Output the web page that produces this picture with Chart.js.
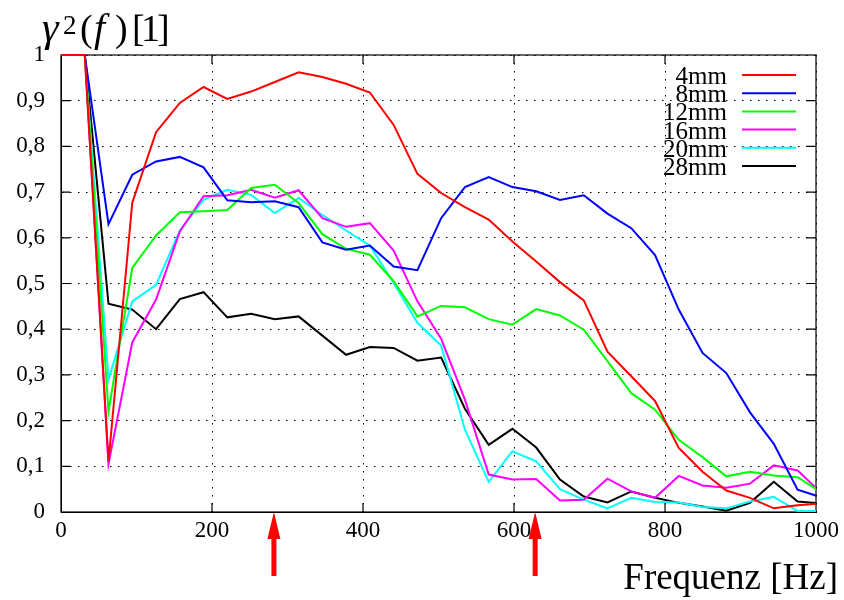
<!DOCTYPE html>
<html><head><meta charset="utf-8">
<script src="https://cdn.jsdelivr.net/npm/chart.js@4/dist/chart.umd.min.js"></script>
<style>html,body{margin:0;padding:0;background:#fff}#wrap{width:844px;height:600px}</style>
</head><body><div id="wrap"><canvas id="c" width="844" height="600"></canvas></div>
<script>
// Frequencies of the data points [Hz]
const freqs = [0, 31.5, 62.9, 94.4, 125.9, 157.4, 188.8, 220.3, 251.8, 283.2, 314.7, 346.2, 377.6, 409.1, 440.6, 472.1, 503.5, 535.0, 566.5, 597.9, 629.4, 660.9, 692.4, 723.8, 755.3, 786.8, 818.2, 849.7, 881.2, 912.6, 944.1, 975.6, 1007.0];
const seriesLabels = ['4mm', '8mm', '12mm', '16mm', '20mm', '28mm'];
const coh4mm  = [1, 1, 0.110, 0.677, 0.831, 0.895, 0.930, 0.904, 0.920, 0.941, 0.962, 0.952, 0.937, 0.918, 0.847, 0.740, 0.698, 0.667, 0.640, 0.592, 0.548, 0.503, 0.463, 0.351, 0.297, 0.243, 0.140, 0.088, 0.047, 0.031, 0.008, 0.015, 0.019];
const coh8mm  = [1, 1, 0.630, 0.738, 0.767, 0.777, 0.754, 0.682, 0.678, 0.680, 0.667, 0.590, 0.574, 0.583, 0.537, 0.529, 0.643, 0.711, 0.733, 0.711, 0.702, 0.683, 0.693, 0.653, 0.621, 0.562, 0.443, 0.348, 0.304, 0.218, 0.149, 0.049, 0.032];
const coh12mm = [1, 1, 0.220, 0.534, 0.605, 0.656, 0.658, 0.661, 0.709, 0.716, 0.676, 0.608, 0.576, 0.563, 0.505, 0.428, 0.451, 0.448, 0.422, 0.410, 0.444, 0.430, 0.399, 0.330, 0.260, 0.224, 0.158, 0.120, 0.078, 0.088, 0.080, 0.076, 0.043];
const coh16mm = [1, 1, 0.105, 0.371, 0.465, 0.614, 0.691, 0.693, 0.705, 0.688, 0.704, 0.643, 0.624, 0.632, 0.572, 0.461, 0.379, 0.246, 0.082, 0.071, 0.072, 0.025, 0.027, 0.073, 0.045, 0.031, 0.079, 0.058, 0.053, 0.062, 0.102, 0.091, 0.042];
const coh20mm = [1, 1, 0.290, 0.461, 0.497, 0.616, 0.683, 0.705, 0.694, 0.654, 0.687, 0.650, 0.616, 0.583, 0.501, 0.414, 0.364, 0.180, 0.066, 0.133, 0.111, 0.050, 0.027, 0.008, 0.031, 0.022, 0.021, 0.011, 0.008, 0.023, 0.033, 0.002, 0.002];
const coh28mm = [1, 1, 0.456, 0.443, 0.400, 0.466, 0.481, 0.426, 0.434, 0.422, 0.428, 0.386, 0.344, 0.361, 0.359, 0.331, 0.338, 0.226, 0.147, 0.182, 0.141, 0.071, 0.034, 0.021, 0.045, 0.031, 0.020, 0.012, 0.003, 0.020, 0.066, 0.023, 0.019];
const seriesValues = [coh4mm, coh8mm, coh12mm, coh16mm, coh20mm, coh28mm];
const seriesColors = ['#ff0000', '#0000ff', '#00ff00', '#ff00ff', '#00ffff', '#000000'];
const yTickLabels = ['0', '0,1', '0,2', '0,3', '0,4', '0,5', '0,6', '0,7', '0,8', '0,9', '1'];
const xTickLabels = ['0', '200', '400', '600', '800', '1000'];
const arrowFreqs = [282, 628];
const xAxisTitle = 'Frequenz [Hz]';

const SERIF = '"Liberation Serif", "Times New Roman", serif';

const datasets = seriesLabels.map((lab, k) => ({
  label: lab,
  data: freqs.map((f, i) => ({x: f, y: seriesValues[k][i]})),
  borderColor: seriesColors[k],
  backgroundColor: seriesColors[k],
  borderWidth: 2,
  pointRadius: 0,
  tension: 0,
  fill: false,
  clip: {left: 0, right: 0, top: 4, bottom: 4}
}));

const extras = {
  id: 'extras',
  beforeDatasetsDraw(chart) {
    const ctx = chart.ctx;
    const a = chart.chartArea;
    ctx.save();
    ctx.strokeStyle = '#000';
    ctx.lineWidth = 1.2;
    ctx.strokeRect(a.left, a.top, a.right - a.left, a.bottom - a.top);
    ctx.restore();
  },
  afterDraw(chart) {
    const ctx = chart.ctx;
    const a = chart.chartArea;
    const xs = chart.scales.x, ys = chart.scales.y;
    ctx.save();
    // inward ticks
    ctx.strokeStyle = '#000';
    ctx.lineWidth = 1.2;
    ctx.beginPath();
    for (let i = 1; i < yTickLabels.length - 1; i++) {
      const py = ys.getPixelForValue(i / 10);
      ctx.moveTo(a.left, py); ctx.lineTo(a.left + 9, py);
      ctx.moveTo(a.right, py); ctx.lineTo(a.right - 10, py);
    }
    for (let i = 1; i < xTickLabels.length - 1; i++) {
      const px = xs.getPixelForValue(Number(xTickLabels[i]));
      ctx.moveTo(px, a.bottom); ctx.lineTo(px, a.bottom - 9);
      ctx.moveTo(px, a.top); ctx.lineTo(px, a.top + 9);
    }
    ctx.stroke();

    // y-axis title gamma^2(f)[1]
    ctx.fillStyle = '#000';
    ctx.textBaseline = 'alphabetic';
    ctx.textAlign = 'left';
    ctx.font = 'italic 42px ' + SERIF;
    ctx.fillText('\u03B3', 42, 41);
    ctx.font = '27px ' + SERIF;
    ctx.fillText('2', 63, 34);
    ctx.font = '38px ' + SERIF;
    ctx.fillText('(', 80, 41);
    ctx.font = 'italic 40px ' + SERIF;
    ctx.fillText('f', 94, 41);
    ctx.font = '38px ' + SERIF;
    ctx.fillText(')', 115, 41);
    ctx.fillText('[', 132, 41);
    ctx.fillText('1', 141, 41);
    ctx.fillText(']', 157, 41);

    // x-axis title
    ctx.font = '37px ' + SERIF;
    ctx.textAlign = 'right';
    ctx.fillText(xAxisTitle, 838, 589);

    // legend
    ctx.font = '25px ' + SERIF;
    chart.data.datasets.forEach((ds, k) => {
      const ly = 75 + k * 18.2;
      ctx.fillStyle = '#000';
      ctx.textAlign = 'right';
      ctx.fillText(ds.label, 727, ly + 9);
      ctx.strokeStyle = ds.borderColor;
      ctx.lineWidth = 2;
      ctx.beginPath();
      ctx.moveTo(742, ly); ctx.lineTo(796, ly);
      ctx.stroke();
    });

    // arrows
    ctx.fillStyle = '#ff0000';
    arrowFreqs.forEach(f => {
      const px = xs.getPixelForValue(f);
      const tip = a.bottom;
      ctx.beginPath();
      ctx.moveTo(px, tip);
      ctx.lineTo(px + 6.5, tip + 27);
      ctx.lineTo(px + 2.5, tip + 27);
      ctx.lineTo(px + 2.5, tip + 64);
      ctx.lineTo(px - 2.5, tip + 64);
      ctx.lineTo(px - 2.5, tip + 27);
      ctx.lineTo(px - 6.5, tip + 27);
      ctx.closePath();
      ctx.fill();
    });
    ctx.restore();
  }
};

new Chart(document.getElementById('c'), {
  type: 'line',
  data: {datasets},
  options: {
    responsive: false,
    animation: false,
    devicePixelRatio: 1,
    layout: {padding: {left: 0, right: 26, top: 55, bottom: 0}},
    plugins: {legend: {display: false}, tooltip: {enabled: false}, title: {display: false}},
    scales: {
      x: {
        type: 'linear', min: 0, max: 1000,
        afterFit(s) { s.height = 88; },
        ticks: {
          stepSize: 200, padding: 5, color: '#000',
          font: {family: SERIF, size: 23},
          maxRotation: 0,
          callback: v => xTickLabels[Math.round(v / 200)]
        },
        grid: {color: '#000', lineWidth: 1, drawTicks: false},
        border: {display: true, color: '#000', width: 1, dash: [1.5, 6.5]}
      },
      y: {
        type: 'linear', min: 0, max: 1,
        afterFit(s) { s.width = 61; },
        ticks: {
          stepSize: 0.1, padding: 16, color: '#000',
          font: {family: SERIF, size: 23},
          callback: v => yTickLabels[Math.round(v * 10)]
        },
        grid: {color: '#000', lineWidth: 1, drawTicks: false},
        border: {display: true, color: '#000', width: 1, dash: [1.5, 6.5]}
      }
    }
  },
  plugins: [extras]
});
</script>
</body></html>
